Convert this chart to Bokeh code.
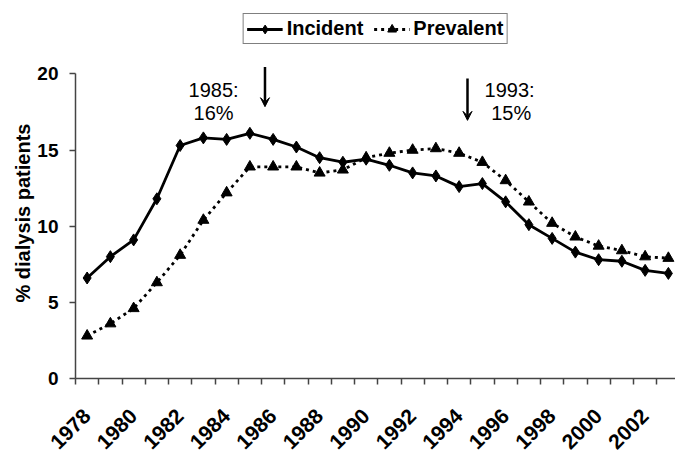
from math import pi
from bokeh.plotting import figure
from bokeh.models import Range1d, FixedTicker, Arrow, VeeHead, Label, Legend, LegendItem, Title
from bokeh.embed import file_html
from bokeh.resources import INLINE

years = list(range(1978, 2004))
incident = [6.6, 8.0, 9.1, 11.8, 15.3, 15.8, 15.7, 16.1, 15.7, 15.2, 14.5, 14.2,
            14.4, 14.0, 13.5, 13.3, 12.6, 12.8, 11.6, 10.1, 9.2, 8.3, 7.8, 7.7, 7.1, 6.9]
prevalent = [2.8, 3.6, 4.6, 6.3, 8.1, 10.4, 12.2, 13.9, 13.9, 13.9, 13.5, 13.7,
             14.5, 14.8, 15.0, 15.1, 14.8, 14.2, 13.0, 11.6, 10.2, 9.3, 8.7, 8.4, 8.0, 7.9]
label_years = list(range(1978, 2004, 2))
y_ticks = [0, 5, 10, 15, 20]

FONT = "Liberation Sans"

# frame: x 75..675, y 0..381 ; 23.25 px per year, 15.35 px per unit
X0 = 1977.5
X1 = X0 + 600 / 23.25
Y1 = 381 / 15.35
p = figure(width=675, height=458, output_backend="svg", toolbar_location=None,
           x_range=Range1d(X0, X1), y_range=Range1d(0, Y1),
           min_border_left=75, min_border_right=0, min_border_top=0, min_border_bottom=77)
p.outline_line_color = None
p.grid.grid_line_color = None
p.background_fill_color = "white"

# x axis
xa = p.xaxis[0]
xa.ticker = FixedTicker(ticks=label_years, minor_ticks=[y - 0.5 for y in years] + [years[-1] + 0.5])
xa.major_tick_line_color = None
xa.minor_tick_line_color = "#444444"
xa.minor_tick_line_width = 1.5
xa.minor_tick_out = 6
xa.minor_tick_in = 0
xa.axis_line_color = "#444444"
xa.axis_line_width = 1.5
xa.major_label_orientation = pi / 4
xa.major_label_standoff = 28
xa.major_label_text_font = FONT
xa.major_label_text_font_style = "bold"
xa.major_label_text_font_size = "21px"
xa.major_label_text_color = "black"

# y axis
ya = p.yaxis[0]
ya.ticker = FixedTicker(ticks=y_ticks)
ya.bounds = (0, 20)
ya.axis_line_color = "#444444"
ya.axis_line_width = 1.5
ya.major_tick_line_color = "#444444"
ya.major_tick_line_width = 1.5
ya.major_tick_out = 6
ya.major_tick_in = 0
ya.minor_tick_line_color = None
ya.major_label_standoff = 11
ya.major_label_text_font = FONT
ya.major_label_text_font_style = "bold"
ya.major_label_text_font_size = "19px"
ya.major_label_text_color = "black"

# y axis title, placed along the 0..20 span
p.add_layout(Title(text="% dialysis patients", align="left", offset=76,
                   text_font=FONT, text_font_style="bold", text_font_size="20px",
                   text_color="black", standoff=1), "left")

# series
l1 = p.line(years, incident, line_color="black", line_width=2.8)
s1 = p.scatter(years, incident, marker="diamond", size=12, color="black")
l2 = p.line(years, prevalent, line_color="black", line_width=2.8, line_dash="3 4")
s2 = p.scatter(years, prevalent, marker="triangle", size=11, color="black")

legend = Legend(items=[LegendItem(label="Incident", renderers=[l1, s1]),
                       LegendItem(label="Prevalent", renderers=[l2, s2])],
                orientation="horizontal", location="top_center",
                border_line_color="black", border_line_width=1.5,
                background_fill_color="white", background_fill_alpha=1,
                label_text_font=FONT, label_text_font_style="bold",
                label_text_font_size="20px", label_text_color="black",
                glyph_width=36, glyph_height=22, label_standoff=4,
                spacing=10, padding=3, margin=13)
p.add_layout(legend)

# annotations
arrows = [(1985.65, 20.45, 17.85), (1994.36, 19.7, 16.95)]
for ax, yt, yb in arrows:
    p.add_layout(Arrow(x_start=ax, y_start=yt, x_end=ax, y_end=yb,
                       line_color="black", line_width=2.5,
                       end=VeeHead(size=9, line_color="black", fill_color="black", line_width=1)))

notes = [(1983.44, 18.96, "1985:"), (1983.44, 17.44, "16%"),
         (1996.17, 18.96, "1993:"), (1996.24, 17.44, "15%")]
for nx, ny, t in notes:
    p.add_layout(Label(x=nx, y=ny, text=t, text_align="center", text_baseline="middle",
                       text_font=FONT, text_font_size="20px", text_color="black"))

open("out.html", "w").write(file_html(p, INLINE))
